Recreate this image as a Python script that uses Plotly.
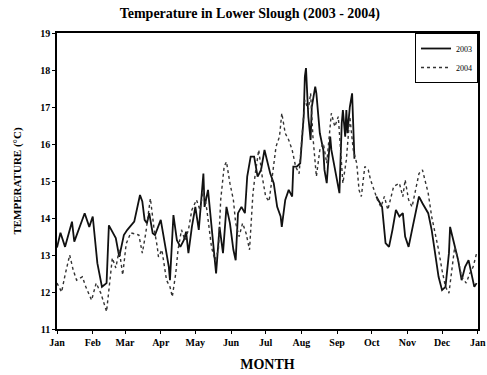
import plotly.graph_objects as go

# Daily water temperature, sampled as day-of-year (0 = Jan 1) and degrees C
days_2003 = [0, 3, 7, 13, 15, 20, 24, 28, 31, 35, 37, 39, 43, 45, 51, 54, 58, 61, 67, 72,
             74, 76, 78, 80, 83, 85, 90, 93, 94, 97, 98, 101, 104, 107, 110, 112, 114, 117,
             120, 123, 127, 128, 131, 134, 138, 141, 144, 147, 150, 153, 155, 157, 160, 163,
             165, 168, 171, 174, 177, 180, 182, 185, 188, 191, 194, 195, 198, 201, 204, 205,
             208, 211, 214, 215, 216, 218, 220, 221, 224, 225, 228, 231, 232, 234, 235, 237,
             238, 241, 244, 245, 247, 248, 250, 251, 252, 254, 256, 257, 258, 268,
             277, 280, 282, 285, 288, 291, 294, 297, 300, 302, 305, 308, 311, 314, 317, 320,
             322, 325, 328, 331, 334, 337, 340, 341, 343, 345, 348, 351, 354, 357, 360, 362, 364]
temp_2003 = [13.2, 13.6, 13.22, 13.9, 13.36, 13.8, 14.13, 13.76, 14.04, 12.78, 12.5, 12.14,
             12.24, 13.8, 13.46, 12.95, 13.54, 13.68, 13.9, 14.62, 14.45, 13.95, 13.86, 14.13,
             13.59, 13.54, 13.95, 13.4, 13.22, 12.68, 12.32, 14.08, 13.4, 13.22, 13.4, 13.63,
             13.05, 13.76, 14.3, 13.68, 15.2, 14.3, 14.76, 13.76, 12.5, 13.76, 13.05, 14.3,
             13.86, 13.14, 12.86, 14.13, 14.3, 14.13, 15.12, 15.66, 15.66, 15.12, 15.3, 15.84,
             15.57, 15.2, 14.94, 14.3, 14.04, 13.76, 14.49, 14.76, 14.58, 15.39, 15.39, 15.48,
             16.74, 17.82, 18.05, 16.74, 16.11, 17.0, 17.55, 17.37, 16.29, 15.84, 15.3, 14.94,
             15.39, 16.2, 15.84, 15.3, 14.76, 14.67, 16.56, 16.92, 16.2, 16.92, 16.29, 17.0,
             17.37, 16.2, 15.6, None,
             14.58, 14.4, 14.3, 13.32, 13.22, 13.68, 14.22, 14.04, 14.13, 13.5, 13.22, 13.68,
             14.13, 14.58, 14.4, 14.22, 14.13, 13.68, 13.05, 12.41, 12.05, 12.14, 13.05, 13.76,
             13.5, 13.22, 12.86, 12.32, 12.68, 12.86, 12.41, 12.14, 12.24]

days_2004 = [0, 4, 7, 11, 14, 17, 22, 25, 30, 34, 38, 43, 45, 48, 51, 54, 57, 60, 64, 71,
             74, 77, 81, 84, 87, 88, 91, 95, 98, 100, 103, 105, 108, 111, 114, 117, 121, 124,
             127, 130, 134, 137, 140, 142, 145, 147, 150, 153, 155, 158, 161, 164, 167, 170,
             172, 175, 178, 181, 184, 187, 190, 193, 195, 198, 201, 204, 207, 210, 212, 215,
             218, 220, 222, 225, 228, 231, 234, 238, 241, 244, 245, 248, 251, 254, 257, 260,
             262, 264, 267, 270, 272, 275, 278, 281, 284, 287, 291, 292, 297, 300, 302, 305,
             308, 311, 314, 317, 320, 322, 325, 328, 331, 334, 337, 340, 343, 345, 348, 351,
             355, 358, 361, 364]
temp_2004 = [12.24, 12.0, 12.46, 13.0, 12.6, 12.32, 12.41, 12.14, 11.78, 12.24, 11.97, 11.47,
             12.05, 12.92, 12.65, 13.14, 12.46, 13.3, 13.6, 13.54, 13.05, 13.59, 14.53, 13.76,
             13.22, 12.95, 13.14, 12.32, 12.14, 11.87, 12.5, 13.14, 13.68, 13.4, 13.68, 14.22,
             14.49, 14.22, 14.76, 14.22, 13.22, 12.86, 13.14, 14.49, 15.39, 15.52, 14.94, 14.49,
             13.86, 13.5, 13.86, 13.59, 13.14, 14.67, 15.2, 15.84, 15.12, 14.58, 14.45, 15.12,
             15.93, 16.2, 16.83, 16.29, 16.11, 15.84, 15.39, 15.2, 16.02, 17.19, 16.92, 17.37,
             16.2, 15.12, 15.84, 16.02, 15.48, 16.83, 16.47, 16.74, 16.29, 14.94, 15.57, 16.74,
             15.84, 15.48, 14.76, 14.58, 15.39, 15.3, 15.03, 14.76, 14.49, 14.3, 14.58, 14.22,
             14.67, 14.85, 14.94, 14.58, 15.03, 14.49, 14.3, 14.76, 15.2, 15.3, 14.94, 14.67,
             14.04, 13.59, 13.14, 12.59, 12.14, 11.97, 12.77, 13.22, 12.86, 12.41, 12.24, 12.5,
             12.68, 13.05]

month_starts = [0, 31, 59, 90, 120, 151, 181, 212, 243, 273, 304, 334, 365]
month_labels = ["Jan", "Feb", "Mar", "Apr", "May", "Jun", "Jul", "Aug", "Sep", "Oct",
                "Nov", "Dec", "Jan"]
y_ticks = [11, 12, 13, 14, 15, 16, 17, 18, 19]

serif = "Liberation Serif"

fig = go.Figure()
fig.add_trace(go.Scatter(x=days_2003, y=temp_2003, mode="lines", name="2003",
                         line=dict(color="#111111", width=1.8), connectgaps=False))
fig.add_trace(go.Scatter(x=days_2004, y=temp_2004, mode="lines", name="2004",
                         line=dict(color="#333333", width=1.4, dash="dot")))

fig.update_layout(
    width=487, height=375,
    margin=dict(l=57, r=9, t=33, b=46, autoexpand=False),
    paper_bgcolor="white", plot_bgcolor="white",
    font=dict(family=serif, color="black", size=10),
    title=dict(text="<b>Temperature in Lower Slough (2003 - 2004)</b>",
               x=0.513, xanchor="center", y=0.965, yanchor="middle",
               font=dict(family=serif, size=14, color="black")),
    legend=dict(x=1, y=1, xanchor="right", yanchor="top",
                bgcolor="white", bordercolor="black", borderwidth=1,
                font=dict(family=serif, size=8, color="black"),
                tracegroupgap=0, itemwidth=30),
    showlegend=True,
)
fig.update_xaxes(
    range=[0, 365.2], tickvals=month_starts, ticktext=month_labels,
    ticklabeloverflow="allow", automargin=False,
    showgrid=False, zeroline=False,
    showline=True, mirror=True, linecolor="black", linewidth=1.5,
    ticks="outside", ticklen=3, tickcolor="black",
    tickfont=dict(family=serif, size=10, color="black", weight="bold"),
    title=dict(text="<b>MONTH</b>", font=dict(family=serif, size=14, color="black"),
               standoff=12),
)
fig.update_yaxes(
    range=[11, 19], tickvals=y_ticks, automargin=False,
    showgrid=False, zeroline=False,
    showline=True, mirror=True, linecolor="black", linewidth=1.5,
    ticks="outside", ticklen=3, tickcolor="black",
    tickfont=dict(family=serif, size=10, color="black", weight="bold"),
    title=dict(text="<b>TEMPERATURE (°C)</b>", font=dict(family=serif, size=11, color="black"),
               standoff=16),
)

fig.write_html("out.html")
